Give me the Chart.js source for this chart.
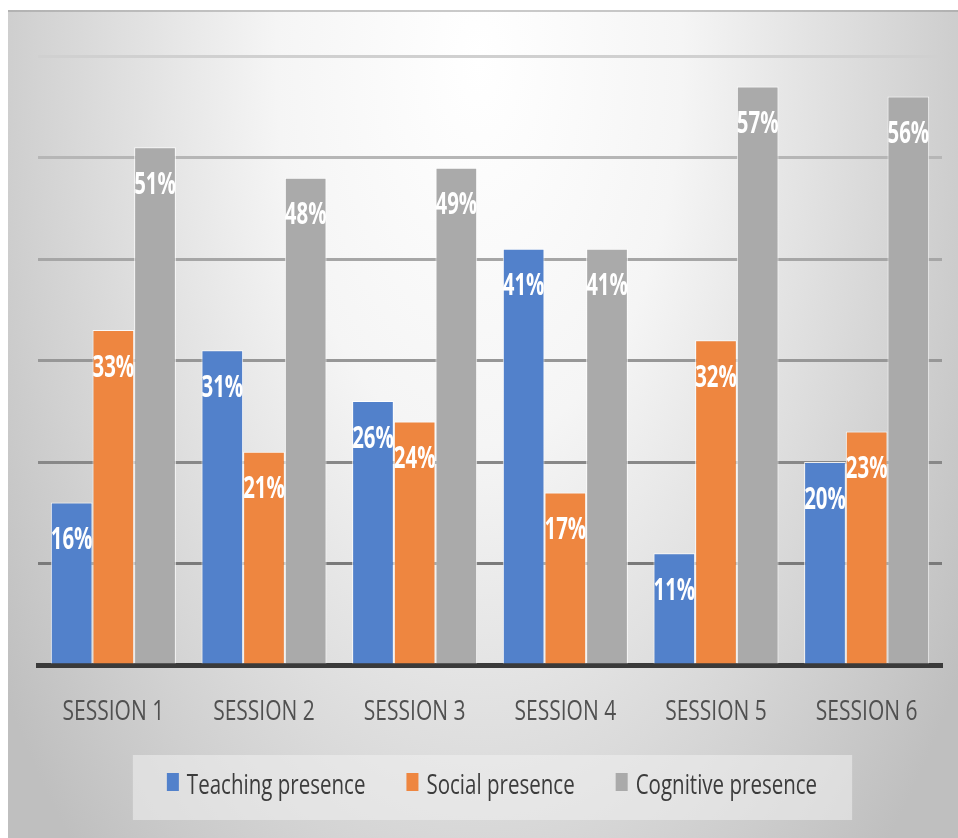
<!DOCTYPE html>
<html>
<head>
<meta charset="utf-8">
<title>Community of Inquiry presences by session</title>
<script src="https://cdn.jsdelivr.net/npm/chart.js@4.4.1/dist/chart.umd.min.js"></script>
<style>
    html, body {
        margin: 0;
        padding: 0;
        background: #ffffff;
    }
    canvas {
        display: block;
    }
</style>
</head>
<body>
<canvas id="presenceChart" width="958" height="838"></canvas>
<script>
// data (percent)
const sessions = ["SESSION 1", "SESSION 2", "SESSION 3", "SESSION 4", "SESSION 5", "SESSION 6"];
const teachingPresence = [16, 31, 26, 41, 11, 20];
const socialPresence = [33, 21, 24, 17, 32, 23];
const cognitivePresence = [51, 48, 49, 41, 57, 56];

const FONT = "'Open Sans', 'Noto Sans', 'Liberation Sans', sans-serif";

/**
 * Draws text squeezed horizontally, the original uses a very narrow face.
 */
function squeezedText(ctx, text, x, y, sx) {
    ctx.save();
    ctx.translate(x, y);
    ctx.scale(sx, 1);
    ctx.fillText(text, 0, 0);
    ctx.restore();
}

/**
 * Paints the soft grey backdrop.
 */
const backdropPlugin = {
    id: "backdrop",
    beforeDraw(chart) {
        const ctx = chart.ctx;
        const w = chart.width;
        const h = chart.height;
        ctx.save();
        ctx.fillStyle = "#ffffff";
        ctx.fillRect(0, 0, w, h);

        // elliptical radial gradient, bright near the top middle
        const cx = w * 0.5;
        const cy = 60;
        const rx = 580;
        const ry = 1100;
        ctx.save();
        ctx.beginPath();
        ctx.rect(8, 10, w - 8, h - 10);
        ctx.clip();
        ctx.translate(cx, cy);
        ctx.scale(1, ry / rx);
        const grad = ctx.createRadialGradient(0, 0, 0, 0, 0, rx);
        grad.addColorStop(0, "#ffffff");
        grad.addColorStop(0.35, "#f5f5f5");
        grad.addColorStop(1, "#bfbfbf");
        ctx.fillStyle = grad;
        ctx.fillRect(-cx, -cy * rx / ry - 50, w * 2, h * 2);
        ctx.restore();

        // thin shadow along the top edge
        ctx.fillStyle = "rgba(150,150,150,0.5)";
        ctx.fillRect(8, 10, w - 8, 2);
        ctx.restore();
    }
};

/**
 * Category names under the axis and the legend row with its box.
 */
const axisAndLegendPlugin = {
    id: "axisAndLegend",
    afterDraw(chart) {
        const ctx = chart.ctx;
        const xScale = chart.scales.x;
        const area = chart.chartArea;
        ctx.save();

        // x tick labels
        ctx.fillStyle = "#505050";
        ctx.textAlign = "center";
        ctx.textBaseline = "middle";
        ctx.font = "28px " + FONT;
        chart.data.labels.forEach((label, i) => {
            squeezedText(ctx, label, xScale.getPixelForTick(i), area.bottom + 47, 0.75);
        });

        // legend
        const sx = 0.76;
        const boxW = 12;
        const boxH = 18;
        const gapText = 8;
        const gapItem = 41;
        const rowY = chart.height - 52;
        ctx.font = "27px " + FONT;
        const items = chart.data.datasets.map(ds => ({
            text: ds.label,
            color: ds.backgroundColor,
            width: boxW + gapText + ctx.measureText(ds.label).width * sx
        }));
        const total = items.reduce((s, it) => s + it.width, 0) + gapItem * (items.length - 1);
        let x = (area.left + area.right) / 2 - total / 2 + 2;

        ctx.fillStyle = "rgba(240,240,240,0.55)";
        ctx.fillRect(x - 34, rowY - 31, total + 34 + 35, 65);

        ctx.textAlign = "left";
        items.forEach(it => {
            ctx.fillStyle = it.color;
            ctx.fillRect(x, rowY - boxH / 2 - 4, boxW, boxH);
            ctx.fillStyle = "#3c3c3c";
            squeezedText(ctx, it.text, x + boxW + gapText, rowY, sx);
            x += it.width + gapItem;
        });
        ctx.restore();
    }
};

/**
 * Writes the white percentage labels just inside the top of every bar.
 */
const valueLabelPlugin = {
    id: "valueLabels",
    afterDatasetsDraw(chart) {
        const ctx = chart.ctx;
        ctx.save();
        ctx.fillStyle = "#ffffff";
        ctx.textAlign = "center";
        ctx.textBaseline = "middle";
        ctx.font = "bold 30px " + FONT;
        chart.data.datasets.forEach((ds, di) => {
            const meta = chart.getDatasetMeta(di);
            meta.data.forEach((bar, i) => {
                squeezedText(ctx, ds.data[i] + "%", bar.x, bar.y + 38, 0.68);
            });
        });
        ctx.restore();
    }
};

// grid line colour fades as it goes up the chart, like the original
function gridColor(ctx) {
    const v = ctx.tick ? ctx.tick.value : 0;
    if (v === 0) return "rgba(0,0,0,0)";
    if (v <= 10) return "#7a7a7a";
    if (v <= 20) return "#888888";
    if (v <= 30) return "#979797";
    if (v <= 40) return "#a6a6a6";
    if (v <= 50) return "#b6b6b6";
    return "#d0d0d0";
}

const chart = new Chart(document.getElementById("presenceChart"), {
    type: "bar",
    data: {
        labels: sessions,
        datasets: [
            {
                label: "Teaching presence",
                data: teachingPresence,
                backgroundColor: "#5281cb",
                borderColor: "rgba(255,255,255,0.85)",
                borderWidth: 1
            },
            {
                label: "Social presence",
                data: socialPresence,
                backgroundColor: "#ee8640",
                borderColor: "rgba(255,255,255,0.85)",
                borderWidth: 1
            },
            {
                label: "Cognitive presence",
                data: cognitivePresence,
                backgroundColor: "#aaaaaa",
                borderColor: "rgba(255,255,255,0.85)",
                borderWidth: 1
            }
        ]
    },
    options: {
        responsive: false,
        animation: false,
        devicePixelRatio: 1,
        layout: {
            padding: { left: 38, right: 16, top: 56, bottom: 173 }
        },
        datasets: {
            bar: {
                categoryPercentage: 0.83,
                barPercentage: 1.0
            }
        },
        scales: {
            x: {
                grid: { display: false, drawTicks: false },
                border: { display: true, color: "#3a3a3a", width: 5 },
                ticks: { display: false }
            },
            y: {
                min: 0,
                max: 60,
                ticks: { display: false, stepSize: 10 },
                border: { display: false },
                grid: {
                    drawTicks: false,
                    color: gridColor,
                    lineWidth: 3
                }
            }
        },
        plugins: {
            legend: { display: false },
            tooltip: { enabled: false }
        }
    },
    plugins: [backdropPlugin, valueLabelPlugin, axisAndLegendPlugin]
});
</script>
</body>
</html>
